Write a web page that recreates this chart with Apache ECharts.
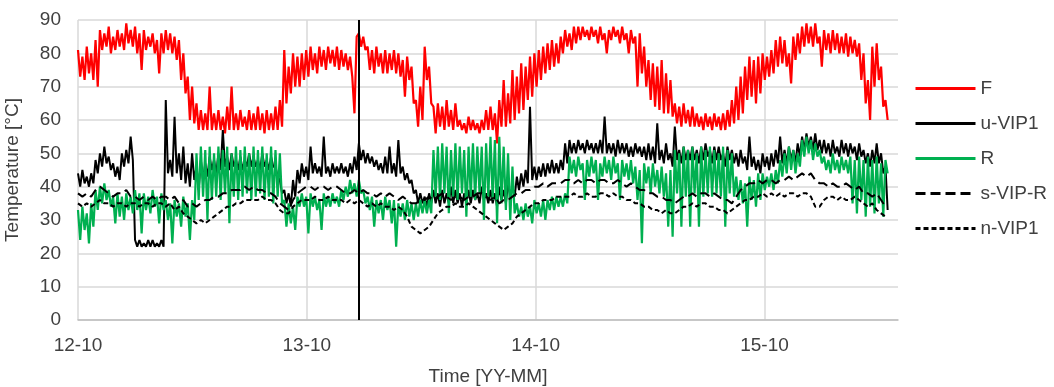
<!DOCTYPE html>
<html>
<head>
<meta charset="utf-8">
<script src="https://cdn.jsdelivr.net/npm/echarts@6/dist/echarts.min.js"></script>
<style>
html,body{margin:0;padding:0;background:#fff}
#chart{width:1054px;height:387px}
</style>
</head>
<body>
<div id="chart"></div>
<script>
// readings start 2012-10-01, x is days since that date
// F, u-VIP1 and R: high/low pairs every half week; s-VIP-R, n-VIP1: weekly
const tickLabels = ['12-10', '13-10', '14-10', '15-10']
const halfWeek = 3.5
const week = 7
const markerDays = [448]

const F = [
  81,73, 79,72, 82,74, 80,72, 84,70, 87,81, 86,82, 88,80, 85,81, 87,82,
  86,81, 89,83, 87,82, 88,80, 86,75, 87,81, 85,82, 86,80, 84,74, 86,80,
  87,81, 86,80, 85,78, 84,72, 80,68, 73,60, 70,59, 65,57, 63,57, 62,57,
  70,57, 62,57, 63,57, 61,56, 64,57, 70,57, 62,57, 63,58, 61,57, 63,57,
  62,57, 64,57, 62,56, 63,57, 62,57, 64,57, 66,58, 81,65, 76,68, 80,70,
  79,70, 80,72, 81,73, 82,75, 80,74, 82,76, 81,75, 82,77, 81,76, 82,75,
  81,76, 80,75, 79,73, 62,85, 86,82, 85,81, 82,75, 81,74, 82,76, 80,74,
  81,74, 80,75, 81,74, 80,73, 78,67, 79,72, 76,65, 66,58, 70,60, 82,72,
  76,65, 64,56, 65,58, 64,57, 66,58, 63,57, 65,58, 60,57, 59,56, 61,57,
  60,57, 59,56, 60,57, 63,57, 64,57, 62,53, 66,58, 72,58, 68,59, 75,60,
  73,62, 77,63, 76,66, 79,67, 80,70, 81,72, 82,74, 83,75, 84,76, 83,77,
  85,80, 87,82, 86,81, 88,83, 88,84, 88,85, 87,84, 88,85, 87,83, 88,84,
  86,80, 87,84, 88,85, 87,83, 88,84, 86,80, 87,83, 85,70, 86,74, 82,70,
  78,66, 77,64, 76,63, 78,62, 74,62, 72,61, 65,59, 64,58, 65,59, 63,58,
  64,58, 62,58, 61,57, 62,58, 61,57, 62,58, 61,57, 62,57, 63,58, 66,59,
  70,60, 73,62, 76,66, 79,67, 78,65, 79,68, 80,72, 79,73, 81,74, 84,76,
  85,77, 84,76, 80,71, 85,78, 86,80, 88,82, 89,83, 88,82, 89,83, 85,76,
  87,81, 86,80, 87,81, 86,80, 85,80, 86,79, 85,80, 84,79, 83,72, 80,65,
  72,60, 82,70, 83,72, 76,64, 66,60
]
const uVIP1 = [
  44,40, 45,41, 43,40, 44,41, 48,44, 50,46, 52,47, 49,45, 47,43, 46,42,
  50,46, 51,47, 55,48, 24,22, 24,22, 23,22, 24,22, 24,22, 23,22, 24,22,
  66,44, 48,43, 61,44, 50,42, 52,41, 47,40, 50,42, 46,39, 48,42, 47,43,
  49,45, 48,44, 50,45, 57,46, 49,45, 50,46, 48,45, 49,45, 48,46, 50,46,
  49,46, 48,45, 50,46, 48,45, 49,46, 46,43, 42,38, 39,35, 38,34, 42,37,
  45,41, 47,43, 46,42, 52,44, 47,44, 46,43, 55,44, 46,43, 47,44, 46,44,
  47,44, 46,43, 47,44, 49,45, 53,48, 51,47, 50,47, 49,46, 48,45, 47,44,
  49,44, 52,44, 47,43, 54,44, 46,42, 44,41, 42,38, 39,35, 38,35, 37,34,
  38,35, 39,35, 38,34, 39,35, 38,35, 40,35, 39,35, 38,34, 38,35, 39,35,
  39,36, 38,35, 40,36, 38,35, 39,35, 38,34, 40,36, 39,35, 41,37, 40,37,
  43,39, 44,40, 45,41, 64,42, 46,42, 46,43, 47,43, 47,44, 48,44, 47,44,
  48,45, 53,47, 54,50, 53,50, 54,51, 53,50, 54,51, 53,50, 53,50, 54,50,
  61,50, 53,50, 53,49, 54,50, 53,50, 53,49, 52,49, 53,50, 52,49, 52,48,
  53,48, 52,47, 59,48, 51,47, 53,48, 50,46, 58,48, 51,47, 52,48, 51,48,
  52,48, 51,47, 52,48, 53,49, 51,47, 52,48, 52,48, 50,46, 52,48, 51,47,
  50,46, 51,47, 49,45, 55,46, 49,45, 48,44, 50,46, 49,45, 50,46, 51,47,
  55,47, 51,47, 52,48, 51,47, 53,49, 55,51, 56,52, 55,51, 56,51, 54,50,
  54,50, 53,49, 54,50, 52,49, 54,50, 53,49, 53,50, 52,48, 53,49, 51,47,
  50,46, 51,47, 53,47, 50,44, 46,33
]
const R = [
  33,24, 34,27, 32,23, 35,28, 39,33, 40,35, 41,36, 39,34, 37,29, 38,31,
  37,30, 38,33, 37,32, 39,33, 38,26, 38,33, 37,32, 39,34, 37,29, 38,33,
  36,30, 35,23, 36,31, 35,28, 37,31, 35,24, 36,30, 50,36, 52,37, 51,30,
  52,36, 50,37, 52,36, 51,38, 52,29, 50,37, 52,36, 51,37, 52,38, 50,36,
  52,37, 51,38, 52,36, 50,37, 52,35, 51,37, 50,35, 36,28, 35,29, 34,27,
  37,34, 38,34, 37,26, 38,34, 37,33, 36,27, 38,34, 37,34, 38,35, 37,34,
  39,36, 40,37, 42,38, 41,37, 42,38, 39,35, 37,33, 37,28, 36,32, 36,30,
  37,33, 36,29, 36,22, 35,31, 35,30, 36,31, 35,30, 35,31, 36,32, 36,32,
  36,32, 51,37, 52,36, 53,38, 52,32, 51,37, 53,36, 52,38, 51,31, 52,37,
  53,36, 52,38, 52,30, 53,37, 55,36, 54,29, 55,35, 52,33, 50,30, 46,32,
  35,31, 34,30, 35,31, 34,29, 36,32, 35,31, 36,30, 36,33, 37,33, 37,34,
  37,34, 38,35, 49,44, 48,43, 49,45, 47,36, 48,43, 49,44, 48,36, 47,43,
  49,44, 48,42, 49,44, 47,36, 48,43, 47,42, 48,41, 46,36, 45,23, 47,41,
  46,38, 47,40, 45,38, 46,37, 44,28, 45,25, 51,38, 50,28, 52,37, 51,28,
  52,38, 50,28, 52,37, 51,38, 52,37, 51,38, 50,37, 52,28, 51,38, 50,37,
  43,36, 42,35, 41,28, 43,36, 42,34, 44,36, 44,39, 43,40, 44,39, 45,41,
  48,43, 50,44, 52,45, 51,44, 50,46, 54,49, 55,50, 54,48, 53,49, 51,47,
  49,45, 48,44, 50,45, 48,44, 49,45, 48,44, 49,35, 48,32, 49,36, 48,31,
  49,34, 48,32, 49,35, 47,31, 48,44
]
const sVIPR = [
  38, 37, 38, 37, 39, 40, 39, 38, 37, 38,
  38, 39, 37, 37, 36, 37, 36, 37, 36, 37,
  37, 36, 37, 35, 36, 34, 35, 34, 35, 36,
  36, 37, 37, 38, 38, 39, 39, 39, 40, 39,
  40, 39, 39, 38, 38, 37, 35, 34, 33, 36,
  38, 39, 40, 40, 39, 40, 40, 39, 40, 40,
  39, 38, 38, 39, 38, 39, 38, 38, 37, 38,
  37, 38, 37, 36, 37, 36, 35, 35, 36, 36,
  37, 36, 37, 38, 37, 36, 37, 37, 36, 37,
  37, 38, 38, 37, 36, 37, 35, 36, 36, 37,
  38, 38, 39, 39, 40, 40, 41, 40, 41, 41,
  41, 42, 42, 41, 42, 41, 42, 42, 41, 42,
  42, 41, 41, 42, 41, 40, 41, 40, 39, 39,
  38, 38, 37, 37, 36, 36, 35, 36, 37, 37,
  38, 37, 38, 38, 37, 38, 37, 36, 36, 35,
  37, 39, 40, 41, 41, 42, 41, 42, 42, 41,
  42, 42, 43, 42, 43, 44, 43, 44, 42, 41,
  41, 40, 41, 40, 40, 41, 40, 39, 40, 38,
  38, 37, 38, 36, 34
]
const nVIP1 = [
  35, 34, 35, 34, 35, 36, 35, 35, 34, 35,
  35, 34, 35, 35, 34, 35, 35, 34, 35, 35,
  34, 35, 33, 34, 32, 31, 30, 29, 30, 29,
  30, 31, 32, 33, 34, 34, 35, 35, 36, 36,
  36, 36, 37, 36, 36, 35, 33, 32, 32, 34,
  35, 36, 36, 36, 37, 36, 36, 37, 36, 36,
  36, 35, 36, 35, 36, 35, 34, 35, 34, 35,
  34, 34, 33, 34, 33, 31, 28, 27, 26, 27,
  28, 30, 32, 33, 34, 34, 35, 34, 34, 35,
  34, 33, 32, 31, 30, 29, 28, 27, 28, 29,
  31, 32, 33, 34, 35, 35, 36, 36, 36, 37,
  37, 37, 37, 38, 37, 37, 38, 37, 37, 38,
  38, 37, 38, 37, 37, 36, 36, 35, 35, 34,
  34, 33, 33, 32, 33, 32, 32, 33, 34, 34,
  35, 34, 35, 35, 34, 34, 33, 33, 32, 33,
  34, 35, 36, 36, 37, 37, 38, 37, 38, 37,
  38, 37, 38, 38, 37, 38, 38, 37, 34, 34,
  36, 37, 37, 36, 37, 36, 36, 37, 36, 35,
  34, 35, 33, 32, 31
]

const chart = echarts.init(document.getElementById('chart'))
const font = 'Liberation Sans, Arial, sans-serif'
const toXY = (arr, step) => arr.map((v, i) => [i * step, v])

const line = (name, data, step, color, width, type) => ({
  name: name,
  type: 'line',
  data: toXY(data, step),
  symbol: 'none',
  showSymbol: false,
  sampling: null,
  lineStyle: { color: color, width: width, type: type || 'solid' },
  itemStyle: { color: color },
  emphasis: { disabled: true }
})

const series = [
  line('F', F, halfWeek, '#ff0000', 2.2),
  line('u-VIP1', uVIP1, halfWeek, '#000000', 2),
  line('R', R, halfWeek, '#00b050', 2.2),
  line('s-VIP-R', sVIPR, week, '#000000', 2, [10, 5]),
  line('n-VIP1', nVIP1, week, '#000000', 2, [5, 3])
]
series[1].markLine = {
  silent: true,
  symbol: 'none',
  label: { show: false },
  lineStyle: { color: '#000', width: 2, type: 'solid' },
  data: markerDays.map(d => ({ xAxis: d }))
}

const option = {
  animation: false,
  textStyle: { fontFamily: font },
  grid: { left: 78, top: 20, right: 156, bottom: 67, outerBoundsMode: 'none' },
  legend: {
    orient: 'vertical',
    left: 909,
    top: 74,
    itemWidth: 60,
    itemHeight: 20,
    itemGap: 16,
    lineStyle: { width: 3 },
    itemStyle: { opacity: 0 },
    textStyle: { fontSize: 19, color: '#404040', fontFamily: font },
    data: ['F', 'u-VIP1', 'R', 's-VIP-R', 'n-VIP1']
  },
  xAxis: {
    type: 'value',
    min: 0,
    max: 1308,
    interval: 365,
    name: 'Time [YY-MM]',
    nameLocation: 'middle',
    nameGap: 47,
    nameTextStyle: { fontSize: 19, color: '#404040' },
    axisLine: { show: true, lineStyle: { color: '#bfbfbf', width: 1.5 } },
    axisTick: { show: false },
    axisLabel: {
      fontSize: 19,
      color: '#404040',
      margin: 16,
      showMaxLabel: false,
      formatter: v => (v % 365 === 0 ? tickLabels[v / 365] || '' : '')
    },
    splitLine: { show: true, showMaxLine: false, lineStyle: { color: '#d9d9d9', width: 1.5 } }
  },
  yAxis: {
    type: 'value',
    min: 0,
    max: 90,
    interval: 10,
    name: 'Temperature [°C]',
    nameLocation: 'middle',
    nameGap: 56,
    nameTextStyle: { fontSize: 19, color: '#404040' },
    axisLine: { show: false },
    axisTick: { show: false },
    axisLabel: { fontSize: 19, color: '#404040', margin: 17 },
    splitLine: { lineStyle: { color: '#d9d9d9', width: 1.5 } }
  },
  series: series
}
chart.setOption(option)
</script>
</body>
</html>
